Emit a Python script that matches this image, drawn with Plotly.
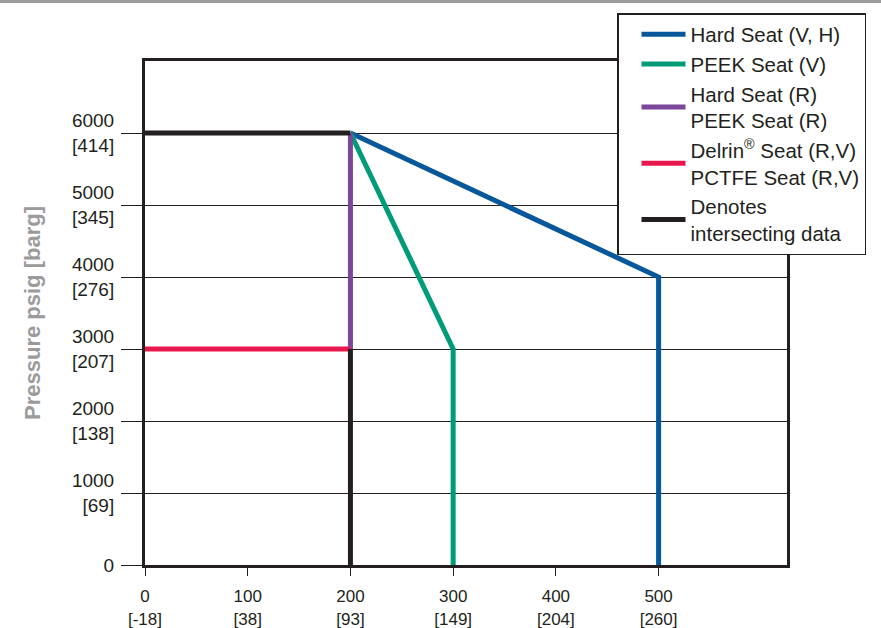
import plotly.graph_objects as go

# ---- data ----
hard_vh_x = [200, 500, 500]
hard_vh_y = [6000, 4000, 0]
peek_v_x = [200, 300, 300]
peek_v_y = [6000, 3000, 0]
hard_r_x = [200, 200]
hard_r_y = [6000, 3000]
delrin_x = [0, 200]
delrin_y = [3000, 3000]
inter_x = [0, 200, None, 200, 200]
inter_y = [6000, 6000, None, 3000, 0]

series_names = [
    "Hard Seat (V, H)",
    "PEEK Seat (V)",
    "Hard Seat (R)<br>PEEK Seat (R)",
    "Delrin<sup>®</sup> Seat (R,V)<br>PCTFE Seat (R,V)",
    "Denotes<br>intersecting data",
]
series_colors = ["#07589b", "#009b78", "#7a479c", "#e8174e", "#231f20"]

x_tick_vals = [0, 100, 200, 300, 400, 500]
x_tick_text = ["0<br>[-18]", "100<br>[38]", "200<br>[93]", "300<br>[149]", "400<br>[204]", "500<br>[260]"]
y_tick_vals = [0, 1000, 2000, 3000, 4000, 5000, 6000]
y_tick_text = ["0", "1000<br>[69]", "2000<br>[138]", "3000<br>[207]", "4000<br>[276]", "5000<br>[345]", "6000<br>[414]"]
y_title = "Pressure psig [barg]"

INK = "#231f20"
FONT = "Liberation Sans, Arial, Helvetica, sans-serif"

fig = go.Figure()
xs = [hard_vh_x, peek_v_x, hard_r_x, delrin_x, inter_x]
ys = [hard_vh_y, peek_v_y, hard_r_y, delrin_y, inter_y]
for i, (x, y) in enumerate(zip(xs, ys)):
    fig.add_trace(go.Scatter(
        x=x, y=y, mode="lines", name=series_names[i],
        line=dict(color=series_colors[i], width=5),
        legendgroup=str(i), hoverinfo="skip", connectgaps=False,
    ))

fig.update_layout(
    width=881, height=628,
    margin=dict(l=145, r=94, t=61, b=63),
    plot_bgcolor="white", paper_bgcolor="white",
    font=dict(family=FONT, size=19, color=INK),
    showlegend=True,
    legend=dict(
        x=(617 - 145) / 642, y=(565 - 13) / 504, xanchor="left", yanchor="top",
        bgcolor="white", bordercolor=INK, borderwidth=1.5,
        font=dict(family=FONT, size=20.5, color=INK),
        tracegroupgap=4, traceorder="normal",
        itemwidth=44, indentation=18,
    ),
    shapes=[dict(
        type="rect", xref="paper", yref="paper",
        x0=-145 / 642, x1=(881 - 145) / 642,
        y0=(565 - 3) / 504, y1=(565 + 2) / 504,
        fillcolor="#9c9c9c", line=dict(width=0), layer="above",
    )],
)

fig.update_xaxes(
    range=[0, 625], tickmode="array", tickvals=x_tick_vals, ticktext=x_tick_text,
    showgrid=False, zeroline=False, automargin=False,
    showline=True, mirror=True, linecolor=INK, linewidth=3,
    ticks="outside", ticklen=8, tickcolor=INK, tickwidth=1,
    ticklabelstandoff=6,
    tickfont=dict(family=FONT, size=17, color=INK),
)
fig.update_yaxes(
    range=[0, 7000], tickmode="array", tickvals=y_tick_vals, ticktext=y_tick_text,
    showgrid=True, gridcolor=INK, gridwidth=1, zeroline=False, automargin=False,
    showline=True, mirror=True, linecolor=INK, linewidth=3,
    ticks="outside", ticklen=21, tickcolor=INK, tickwidth=1,
    ticklabelstandoff=3,
    tickfont=dict(family=FONT, size=19, color=INK),
    title=dict(text="<b>" + y_title + "</b>", standoff=26,
               font=dict(family=FONT, size=22, color="#9b9b9b")),
)

fig.write_html("out.html", config={"displayModeBar": False},
               post_script="document.body.style.margin='0px';")
